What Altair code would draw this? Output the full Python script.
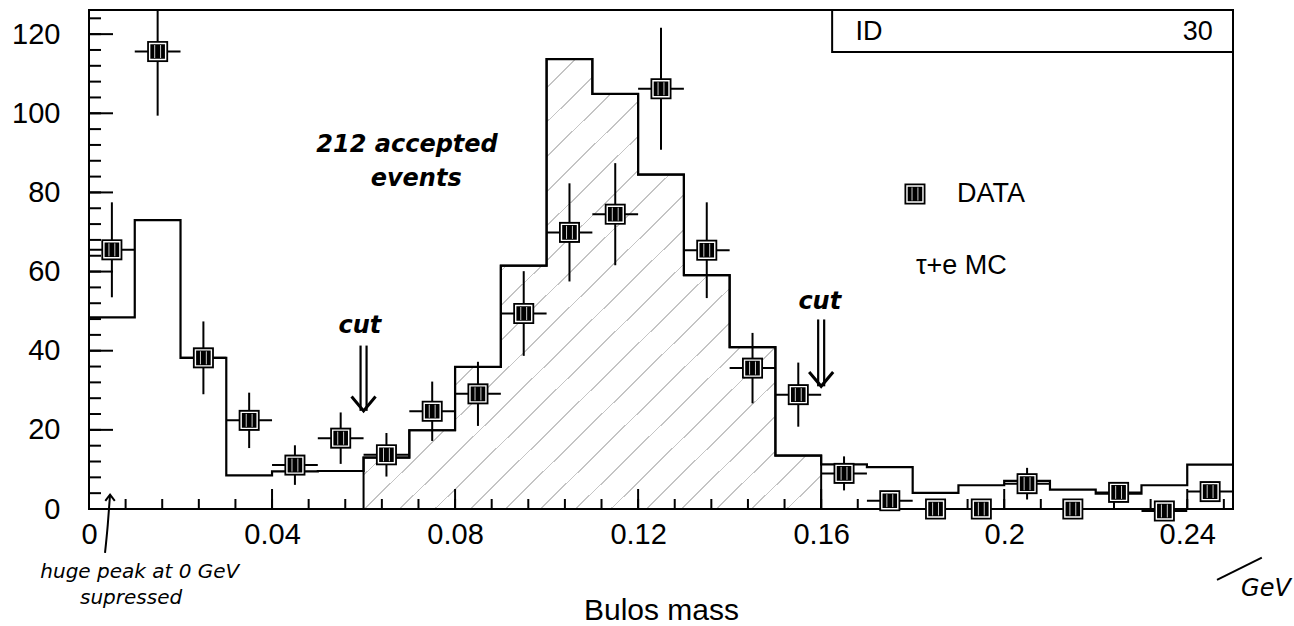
import altair as alt
import pandas as pd

# ---- histogram binning (GeV) ----
bin_width = 0.01
bin_left = [round(i * bin_width, 2) for i in range(25)]

# tau + e Monte Carlo expectation per bin
mc_counts = [48.4, 73.0, 38.2, 8.5, 9.5, 9.6, 13.0, 19.9, 35.9, 61.5,
             113.7, 104.9, 84.5, 59.1, 40.9, 13.5, 11.3, 10.6, 4.1, 6.0,
             7.1, 4.9, 3.9, 6.0, 11.2]

# measured entries per bin and their errors
data_counts = [65.5, 115.6, 38.2, 22.4, 11.1, 17.9, 13.7, 24.7, 29.1, 49.4,
               69.9, 74.5, 106.2, 65.4, 35.6, 28.9, 9.0, 2.1, 0.0, 0.0,
               6.4, 0.0, 4.2, -0.5, 4.4]
data_errors = [12.0, 16.2, 9.2, 7.0, 5.0, 6.5, 5.5, 7.5, 8.1, 10.7,
               12.4, 12.9, 15.4, 12.1, 8.9, 8.1, 4.3, 2.0, 1.5, 1.5,
               4.0, 1.5, 2.5, 1.5, 2.5]

# selection window
cut_low, cut_high = 0.06, 0.16

# axis ticks
x_major = [0, 0.04, 0.08, 0.12, 0.16, 0.2, 0.24]
x_minor = [round(i * 0.008, 3) for i in range(32)]
y_major = [0, 20, 40, 60, 80, 100, 120]
y_minor = list(range(0, 127, 4))

W, H = 1144, 499
X_MAX, Y_MAX = 0.25, 126.1

# ---- tables ----
edges = bin_left + [X_MAX]
mc_df = pd.DataFrame({"x": edges, "n": mc_counts + [mc_counts[-1]]})

i0, i1 = bin_left.index(cut_low), bin_left.index(cut_high)
sel_df = pd.DataFrame({"x": bin_left[i0:i1] + [cut_high],
                       "n": mc_counts[i0:i1] + [mc_counts[i1 - 1]]})

centers = [round(b + bin_width / 2, 3) for b in bin_left]
data_df = pd.DataFrame({
    "x": centers,
    "n": data_counts,
    "lo": [c - e for c, e in zip(data_counts, data_errors)],
    "hi": [c + e for c, e in zip(data_counts, data_errors)],
    "xlo": bin_left,
    "xhi": [b + bin_width for b in bin_left],
})

# ---- shared scales / axes ----
xs = alt.Scale(domain=[0, X_MAX], nice=False, zero=False)
ys = alt.Scale(domain=[0, Y_MAX], nice=False, zero=False)
LABEL_FONT = "Liberation Sans"
HAND = "DejaVu Sans"

x_axis = alt.Axis(values=x_major, format="~g", title="Bulos mass", ticks=False, tickSize=0,
                  domain=False, grid=False, labelFlush=False, labelPadding=11,
                  labelFont=LABEL_FONT, labelFontSize=29, labelColor="black",
                  titleFont=LABEL_FONT, titleFontSize=30, titleFontWeight="normal",
                  titleColor="black", titleY=110, titleBaseline="alphabetic")
y_axis = alt.Axis(values=y_major, format="d", title="", ticks=False, tickSize=0,
                  domain=False, grid=False, labelFlush=False, labelPadding=29,
                  labelFont=LABEL_FONT, labelFontSize=29, labelColor="black")


def X(field):
    return alt.X(field, type="quantitative", scale=xs, axis=x_axis)


def Y(field):
    return alt.Y(field, type="quantitative", scale=ys, axis=y_axis)


def hatch_fill(n=26, width=0.002, ink="#c4c4c4"):
    stops = [{"offset": 0, "color": "white"}]
    for k in range(1, n):
        t = k / n
        stops += [{"offset": t, "color": "white"}, {"offset": t, "color": ink},
                  {"offset": t + width, "color": ink}, {"offset": t + width, "color": "white"}]
    stops.append({"offset": 1, "color": "white"})
    return {"gradient": "linear", "x1": 0, "y1": 0, "x2": 1, "y2": 1, "stops": stops}


# ---- MC histogram ----
hatched = alt.Chart(sel_df).mark_area(
    interpolate="step-after", fill=hatch_fill(), stroke="black", strokeWidth=2
).encode(x=X("x"), y=Y("n"))

mc_line = alt.Chart(mc_df).mark_line(
    interpolate="step-after", color="black", strokeWidth=2.2
).encode(x=X("x"), y=Y("n"))

# ---- inward ticks ----
yt_major = alt.Chart(pd.DataFrame({"v": y_major})).mark_rule(color="black", strokeWidth=2).encode(
    y=Y("v"), x=alt.value(0), x2=alt.value(24))
yt_minor = alt.Chart(pd.DataFrame({"v": y_minor})).mark_rule(color="black", strokeWidth=2).encode(
    y=Y("v"), x=alt.value(0), x2=alt.value(12))
xt_major = alt.Chart(pd.DataFrame({"v": x_major})).mark_rule(color="black", strokeWidth=2).encode(
    x=X("v"), y=alt.value(H), y2=alt.value(H - 20))
xt_minor = alt.Chart(pd.DataFrame({"v": x_minor})).mark_rule(color="black", strokeWidth=2).encode(
    x=X("v"), y=alt.value(H), y2=alt.value(H - 10))

# ---- data points with errors ----
err_v = alt.Chart(data_df).mark_rule(color="black", strokeWidth=2, clip=True).encode(
    x=X("x"), y=Y("lo"), y2=alt.Y2("hi"))
err_h = alt.Chart(data_df).mark_rule(color="black", strokeWidth=2).encode(
    x=X("xlo"), x2=alt.X2("xhi"), y=Y("n"))


def marker(df):
    outer = alt.Chart(df).mark_point(shape="square", size=441, filled=True, color="black",
                                     opacity=1).encode(x=X("x"), y=Y("n"))
    ring = alt.Chart(df).mark_point(shape="square", size=256, filled=False, color="white",
                                    strokeWidth=1.4, opacity=1).encode(x=X("x"), y=Y("n"))
    streaks = alt.Chart(df).mark_point(shape="M-0.28,-0.62L-0.28,0.62M0.28,-0.62L0.28,0.62",
                                       size=441, filled=False, color="white", strokeWidth=1,
                                       opacity=0.8).encode(x=X("x"), y=Y("n"))
    return [outer, ring, streaks]


# ---- legend / stat box ----
legend_mark = pd.DataFrame({"x": [0.1805], "n": [79.6]})
legend_text = pd.DataFrame({"x": [0.1897, 0.1807], "y": [79.6, 61.5], "t": ["DATA", "τ+e MC"]})
legend_txt = alt.Chart(legend_text).mark_text(
    font=LABEL_FONT, fontSize=27, align="left", baseline="middle", color="black"
).encode(x=X("x"), y=Y("y"), text="t")

id_box = alt.Chart(pd.DataFrame({"x": [0.1624], "x2": [X_MAX], "y": [115.5], "y2": [Y_MAX]})).mark_rect(
    fill="white", stroke="black", strokeWidth=2).encode(x=X("x"), x2="x2", y=Y("y"), y2="y2")
id_left = alt.Chart(pd.DataFrame({"x": [0.1675], "y": [120.6], "t": ["ID"]})).mark_text(
    font=LABEL_FONT, fontSize=27, align="left", baseline="middle", color="black"
).encode(x=X("x"), y=Y("y"), text="t")
id_right = alt.Chart(pd.DataFrame({"x": [0.2456], "y": [120.6], "t": ["30"]})).mark_text(
    font=LABEL_FONT, fontSize=27, align="right", baseline="middle", color="black"
).encode(x=X("x"), y=Y("y"), text="t")

# ---- handwritten notes ----
notes_bold = pd.DataFrame({
    "x": [0.0695, 0.0715, 0.0592, 0.1597],
    "y": [91.9, 83.3, 46.3, 52.2],
    "t": ["212 accepted", "events", "cut", "cut"],
})
notes_bold_txt = alt.Chart(notes_bold).mark_text(
    font=HAND, fontSize=24, fontStyle="italic", fontWeight="bold",
    align="center", baseline="middle", color="black"
).encode(x=X("x"), y=Y("y"), text="t")

notes_thin = pd.DataFrame({
    "x": [0.0111, 0.0092, 0.2572],
    "y": [-15.8, -22.4, -20.2],
    "t": ["huge peak at 0 GeV", "supressed", "GeV"],
    "s": [20, 20, 24],
})
notes_thin_txt = alt.Chart(notes_thin).mark_text(
    font=HAND, fontStyle="italic", align="center", baseline="middle", color="black"
).encode(x=X("x"), y=Y("y"), text="t", size=alt.Size("s", scale=None, legend=None))

# cut arrows: double shaft with an open head
arrows = pd.DataFrame({"x": [cut_low, cut_high], "top": [41.3, 47.9], "tip": [24.8, 31.0]})
shaft_l = alt.Chart(arrows).mark_rule(color="black", strokeWidth=2.2, xOffset=-3).encode(
    x=X("x"), y=Y("top"), y2=alt.Y2("tip"))
shaft_r = alt.Chart(arrows).mark_rule(color="black", strokeWidth=2.2, xOffset=3).encode(
    x=X("x"), y=Y("top"), y2=alt.Y2("tip"))
heads = alt.Chart(arrows).mark_point(shape="M-1,-1.2L0,0L1,-1.2", size=576, filled=False,
                                     color="black", strokeWidth=3, opacity=1).encode(
    x=X("x"), y=Y("tip"))

# pointer to the suppressed peak at zero
peak_arrow = pd.DataFrame({"x": [0.0035, 0.0041, 0.0046], "y": [-11.1, -4.0, 3.6], "o": [0, 1, 2]})
peak_line = alt.Chart(peak_arrow).mark_line(color="black", strokeWidth=2, interpolate="monotone").encode(
    x=X("x"), y=Y("y"), order="o")
peak_head = alt.Chart(peak_arrow.iloc[[2]]).mark_point(
    shape="M-1,1.3L0,0L1,1.3", size=90, filled=False, color="black", strokeWidth=2, opacity=1
).encode(x=X("x"), y=Y("y"))

# unit slash "/GeV"
slash = alt.Chart(pd.DataFrame({"x": [0.2465], "x2": [0.2563], "y": [-17.9], "y2": [-12.3]})).mark_rule(
    color="black", strokeWidth=2).encode(x=X("x"), x2="x2", y=Y("y"), y2="y2")

layers = [hatched, mc_line, yt_major, yt_minor, xt_major, xt_minor, err_v, err_h]
layers += marker(data_df)
layers += [id_box, id_left, id_right]
layers += marker(legend_mark)
layers += [legend_txt, notes_bold_txt, notes_thin_txt, shaft_l, shaft_r, heads,
           peak_line, peak_head, slash]

chart = alt.layer(*layers).properties(
    width=W, height=H,
    padding={"left": 89, "top": 10, "right": 1294 - 89 - W, "bottom": 626 - 10 - H},
    autosize=alt.AutoSizeParams(type="none"),
    background="white",
).configure_view(stroke="black", strokeWidth=2)

chart.save("out.html", embed_options={"renderer": "svg", "actions": False})
